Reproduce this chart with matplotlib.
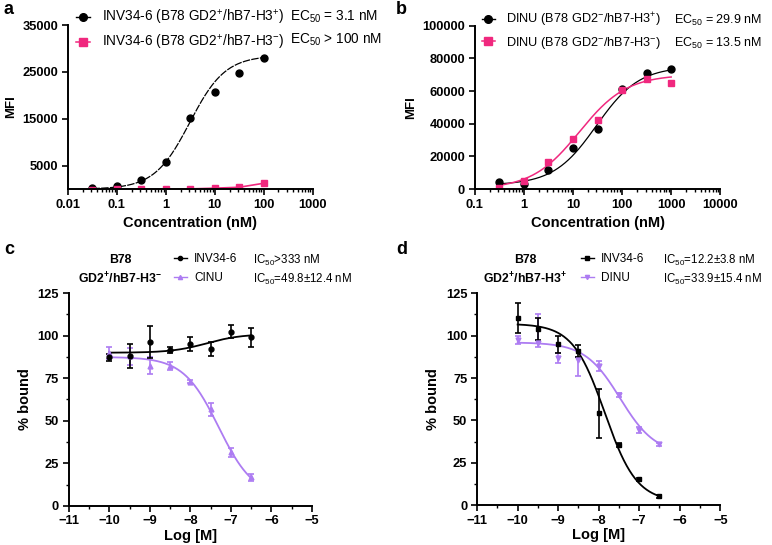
import numpy as np
import matplotlib
matplotlib.use("Agg")
from matplotlib import pyplot as plt
from matplotlib.ticker import LogLocator, NullFormatter, MultipleLocator, FixedLocator

plt.rcParams['font.family'] = ['Liberation Sans', 'DejaVu Sans']
plt.rcParams['mathtext.fontset'] = 'custom'
plt.rcParams['mathtext.rm'] = 'Liberation Sans'
plt.rcParams['mathtext.default'] = 'regular'

# ---- panel a : INV34-6 binding (MFI vs conc, nM)
conc_a = [0.0316, 0.1, 0.316, 1, 3.16, 10, 31.6, 100]
mfi_a_pos = [280, 640, 1900, 5850, 15100, 20700, 24800, 27900]
mfi_a_neg = [-100, 0, 0, 0, 50, 200, 400, 1250]
# ---- panel b : DINU binding
conc_b = [0.316, 1, 3.16, 10, 31.6, 100, 316, 1000]
mfi_b_pos = [4100, 3300, 11600, 24900, 36500, 61300, 71100, 73500]
mfi_b_neg = [600, 4700, 16300, 30600, 42200, 60700, 67600, 65200]
# ---- panel c/d : competition, log [M]
logm = [-10, -9.5, -9, -8.5, -8, -7.5, -7, -6.5]
c_inv = [87.3, 87.9, 96.5, 91.6, 95.0, 92.2, 102.4, 99.1]
c_inv_err = [2, 7, 9.5, 1.5, 4, 4, 4, 5.5]
c_dinu = [90.0, 88.0, 82.2, 82.2, 73.0, 56.7, 31.4, 16.7]
c_dinu_err = [3.5, 5, 5, 2.5, 1, 4, 2.5, 2]
d_inv = [110.3, 103.8, 95.0, 91.1, 54.1, 35.4, 15.2, 5.3]
d_inv_err = [9, 6.5, 5, 3.5, 14.5, 1, 1, 1]
d_dinu = [97.4, 95.5, 86.7, 85.5, 82.0, 65.0, 44.3, 35.8]
d_dinu_lo = [2.5, 2, 3, 9.5, 3, 1, 2, 1]
d_dinu_hi = [2.5, 17, 3, 2, 3, 1, 2, 1]

# fit parameters (bottom, top, log mid, hill)
fit_a_pos = (0, 28500, np.log10(3.1), 1.2)
fit_b_pos = (2500, 75000, np.log10(29.9), 1.0)
fit_b_neg = (0, 70000, np.log10(13.5), 0.9)
fit_c_inv = (90, 101, -7.6, 1.0)
fit_c_dinu = (87.5, 5, -7.30, 1.0)
fit_d_inv = (107, 2, -7.85, 1.1)
fit_d_dinu = (96, 30, -7.47, 1.0)

def hill(logx, p):
    b, t, m, h = p
    return b + (t - b) / (1 + 10 ** ((m - logx) * h))

PINK = '#f0287e'
PURPLE = '#ad7cf2'
BOLD = dict(fontweight='bold')
TICK = 9.3

fig = plt.figure(figsize=(7.72, 5.45), dpi=100)

def style(ax):
    for s in ['top', 'right']:
        ax.spines[s].set_visible(False)
    for s in ['left', 'bottom']:
        ax.spines[s].set_linewidth(1.4)
    ax.tick_params(width=1.2, length=4, labelsize=TICK, pad=3)
    ax.tick_params(which='minor', width=1.0, length=2.5)
    for lab in ax.get_xticklabels() + ax.get_yticklabels():
        lab.set_fontweight('bold')

def top_legend(ax, handles, labels, x, y, fs=9.8):
    ax.legend(handles, labels, loc='upper left', bbox_to_anchor=(x / 772, 1 - y / 545),
              bbox_transform=fig.transFigure, frameon=False, fontsize=fs,
              handlelength=1.0, handletextpad=0.9, labelspacing=0.45,
              borderpad=0, borderaxespad=0)

# a
ax = fig.add_axes([0.088, 0.653, 0.317, 0.301])
ax.set_xscale('log')
ax.set_xlim(0.01, 1000)
ax.set_ylim(0, 35000)
xx = np.linspace(np.log10(conc_a[0]), np.log10(conc_a[-1]), 200)
ax.plot(10 ** xx, hill(xx, fit_a_pos), color='k', lw=0.9, ls=(0, (6, 1)))
ax.plot(conc_a, mfi_a_pos, 'o', color='k', ms=5)
ax.plot(conc_a, mfi_a_neg, '-s', color=PINK, ms=4.5, lw=1.2)
ax.yaxis.set_major_locator(FixedLocator([5000, 15000, 25000, 35000]))
ax.xaxis.set_minor_locator(LogLocator(base=10, subs=np.arange(2, 10), numticks=10))
ax.xaxis.set_minor_formatter(NullFormatter())
ax.set_xticks([0.01, 0.1, 1, 10, 100, 1000])
ax.set_xticklabels(['0.01', '0.1', '1', '10', '100', '1000'])
style(ax)
ax.set_xlabel('Concentration (nM)', fontsize=10.5, labelpad=4, **BOLD)
ax.set_ylabel('MFI', fontsize=9.5, labelpad=4, **BOLD)
ha = [plt.Line2D([], [], color='k', marker='o', ms=5.5, lw=1),
      plt.Line2D([], [], color=PINK, marker='s', ms=5.5, lw=1.1)]
top_legend(ax, ha, ['INV34-6 (B78 GD2$^{+}$/hB7-H3$^{+}$)', 'INV34-6 (B78 GD2$^{+}$/hB7-H3$^{-}$)'], 76, 8)
fig.text(290 / 772, 1 - 17 / 545, 'EC$_{50}$ = 3.1 nM', fontsize=9.8, va='center')
fig.text(290 / 772, 1 - 40 / 545, 'EC$_{50}$ > 100 nM', fontsize=9.8, va='center')

# b
ax = fig.add_axes([0.615, 0.653, 0.318, 0.300])
ax.set_xscale('log')
ax.set_xlim(0.1, 10000)
ax.set_ylim(0, 100000)
xx = np.linspace(np.log10(conc_b[0]), np.log10(conc_b[-1]), 200)
ax.plot(10 ** xx, hill(xx, fit_b_pos), color='k', lw=0.9)
ax.plot(10 ** xx, hill(xx, fit_b_neg), color=PINK, lw=1.1)
ax.plot(conc_b, mfi_b_pos, 'o', color='k', ms=5)
ax.plot(conc_b, mfi_b_neg, 's', color=PINK, ms=5)
ax.yaxis.set_major_locator(MultipleLocator(20000))
ax.xaxis.set_minor_locator(LogLocator(base=10, subs=np.arange(2, 10), numticks=10))
ax.xaxis.set_minor_formatter(NullFormatter())
ax.set_xticks([0.1, 1, 10, 100, 1000, 10000])
ax.set_xticklabels(['0.1', '1', '10', '100', '1000', '10000'])
style(ax)
ax.set_xlabel('Concentration (nM)', fontsize=10.5, labelpad=4, **BOLD)
ax.set_ylabel('MFI', fontsize=9.5, labelpad=4, **BOLD)
top_legend(ax, ha, ['DINU (B78 GD2$^{-}$/hB7-H3$^{+}$)', 'DINU (B78 GD2$^{-}$/hB7-H3$^{-}$)'], 482, 11, fs=9.2)
fig.text(674 / 772, 1 - 20 / 545, 'EC$_{50}$ = 29.9 nM', fontsize=9.0, va='center')
fig.text(674 / 772, 1 - 43 / 545, 'EC$_{50}$ = 13.5 nM', fontsize=9.0, va='center')

# c and d
def comp_panel(rect, s1, e1, f1, m1, s2, e2, f2, m2, names, ics, title2, xt):
    ax = fig.add_axes(rect)
    ax.set_xlim(-11, -5)
    ax.set_ylim(0, 125)
    xx = np.linspace(logm[0], logm[-1], 200)
    ax.plot(xx, hill(xx, f2), color=PURPLE, lw=1.3)
    ax.errorbar(logm, s2, yerr=e2, fmt=m2, color=PURPLE, ms=3.5, capsize=2.5, elinewidth=1.2, capthick=1.2)
    ax.plot(xx, hill(xx, f1), color='k', lw=1.3)
    ax.errorbar(logm, s1, yerr=e1, fmt=m1, color='k', ms=3.5, capsize=2.5, elinewidth=1.2, capthick=1.2)
    ax.xaxis.set_major_locator(MultipleLocator(1))
    ax.xaxis.set_minor_locator(MultipleLocator(0.5))
    ax.yaxis.set_major_locator(MultipleLocator(25))
    ax.yaxis.set_minor_locator(MultipleLocator(12.5))
    style(ax)
    ax.set_xlabel('Log [M]', fontsize=10.5, labelpad=1, **BOLD)
    ax.set_ylabel('% bound', fontsize=10.5, labelpad=4, **BOLD)
    hh = [plt.Line2D([], [], color='k', marker=m1, ms=3, lw=1),
          plt.Line2D([], [], color=PURPLE, marker=m2, ms=3, lw=1)]
    ax.legend(hh, names, loc='upper left', bbox_to_anchor=(xt[1] / 772, 1 - 253 / 545),
              bbox_transform=fig.transFigure, frameon=False, fontsize=8.5, handlelength=1.1,
              handletextpad=0.6, labelspacing=0.62, borderpad=0, borderaxespad=0)
    fig.text(xt[0] / 772, 1 - 260 / 545, 'B78', fontsize=8.8, ha='center', va='center', **BOLD)
    fig.text(xt[0] / 772, 1 - 279 / 545, title2, fontsize=8.8, ha='center', va='center', **BOLD)
    fig.text(xt[2] / 772, 1 - 260 / 545, ics[0], fontsize=8.3, va='center')
    fig.text(xt[2] / 772, 1 - 279 / 545, ics[1], fontsize=8.3, va='center')

comp_panel([0.089, 0.072, 0.315, 0.390], c_inv, c_inv_err, fit_c_inv, 'o',
           c_dinu, c_dinu_err, fit_c_dinu, '^', ['INV34-6', 'CINU'],
           ['IC$_{50}$>333 nM', 'IC$_{50}$=49.8\u00b112.4 nM'],
           'GD2$^{+}$/hB7-H3$^{-}$', (120, 174, 253))
comp_panel([0.618, 0.073, 0.315, 0.389], d_inv, d_inv_err, fit_d_inv, 's',
           d_dinu, [d_dinu_lo, d_dinu_hi], fit_d_dinu, 'v', ['INV34-6', 'DINU'],
           ['IC$_{50}$=12.2\u00b13.8 nM', 'IC$_{50}$=33.9\u00b115.4 nM'],
           'GD2$^{+}$/hB7-H3$^{+}$', (525, 581, 663))

for t, x, y in [('a', 4, 9), ('b', 396, 9), ('c', 4, 250), ('d', 396, 250)]:
    fig.text(x / 772, 1 - y / 545, t, fontsize=13, fontweight='bold', va='center')

fig.savefig('out.png', dpi=100)
